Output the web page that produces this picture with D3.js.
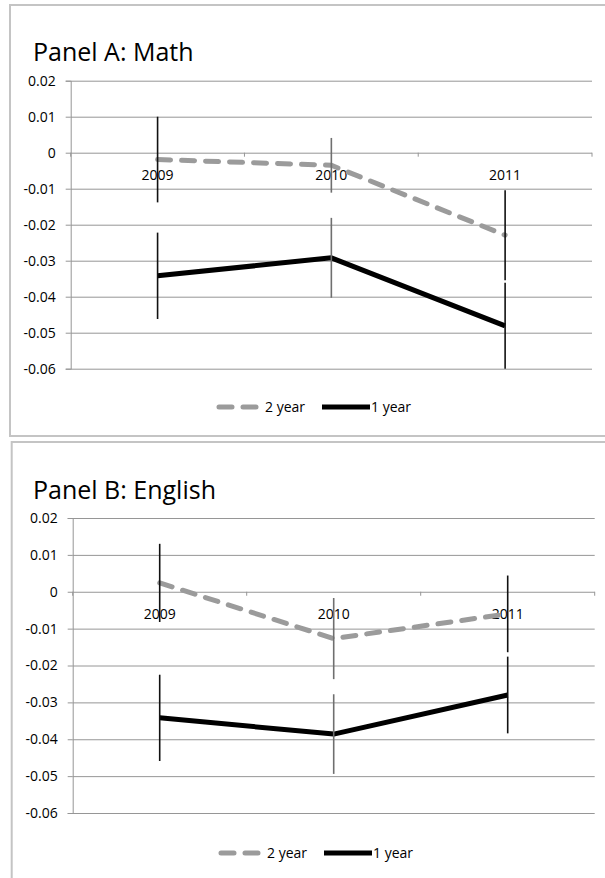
<!DOCTYPE html>
<html>
<head>
<meta charset="utf-8">
<script src="https://cdn.jsdelivr.net/npm/d3@7"></script>
<style>
  body { margin: 0; background: #fff; }
  svg { display: block; font-family: "Open Sans", sans-serif; }
</style>
</head>
<body>
<div id="chart"></div>
<script>
const svgWidth = 605;
const svgHeight = 878;

// categories and tick values
const years = ["2009", "2010", "2011"];
const yTicks = [0.02, 0.01, 0, -0.01, -0.02, -0.03, -0.04, -0.05, -0.06];
const seriesNames = ["2 year", "1 year"];

// Panel A: Math (point estimate and half-width of the error bar)
const mathTwoYear = [-0.0019, -0.0035, -0.0229];
const mathTwoYearErr = [0.0119, 0.0076, 0.0125];
const mathOneYear = [-0.0342, -0.0292, -0.0481];
const mathOneYearErr = [0.012, 0.0111, 0.012];

// Panel B: English
const engTwoYear = [0.0024, -0.0127, -0.006];
const engTwoYearErr = [0.0106, 0.011, 0.0104];
const engOneYear = [-0.0342, -0.0386, -0.028];
const engOneYearErr = [0.0117, 0.0108, 0.0104];

const errColors = ["#111", "#6f6f6f", "#111"];

const svg = d3.select("#chart")
  .append("svg")
  .attr("width", svgWidth)
  .attr("height", svgHeight);

const panels = [
  {title: "Panel A: Math", two: mathTwoYear, twoErr: mathTwoYearErr, one: mathOneYear, oneErr: mathOneYearErr,
   box: {x: 10, y: 5, bottom: 436}, titleY: 61, left: 70.7, right: 592, top: 80.7, bottom: 368.7, legendY: 407, dx: 0},
  {title: "Panel B: English", two: engTwoYear, twoErr: engTwoYearErr, one: engOneYear, oneErr: engOneYearErr,
   box: {x: 11.7, y: 442, bottom: 920}, titleY: 499, left: 72.7, right: 594.7, top: 518, bottom: 813, legendY: 853, dx: 2}
];

function drawPanel(p) {
  const g = svg.append("g");

  // frame
  g.append("rect")
    .attr("x", p.box.x).attr("y", p.box.y)
    .attr("width", 700).attr("height", p.box.bottom - p.box.y)
    .attr("fill", "none")
    .attr("stroke", "#c4c4c4")
    .attr("stroke-width", 2);

  g.append("text")
    .attr("x", 33).attr("y", p.titleY)
    .attr("font-size", 25)
    .attr("fill", "#000")
    .text(p.title);

  const x = d3.scaleBand().domain(years).range([p.left, p.right]);
  const y = d3.scaleLinear().domain([-0.06, 0.02]).range([p.bottom, p.top]).clamp(true);

  // gridlines
  g.append("g")
    .attr("transform", `translate(${p.left},0)`)
    .call(d3.axisLeft(y).tickValues(yTicks).tickSize(-(p.right - p.left)).tickFormat(""))
    .call(s => s.select(".domain").remove())
    .call(s => s.selectAll("line").attr("stroke", "#969696"));

  // y axis
  g.append("g")
    .attr("transform", `translate(${p.left},0)`)
    .call(d3.axisLeft(y).tickValues(yTicks).tickSize(5).tickPadding(10).tickFormat(d => String(d)))
    .call(s => s.select(".domain").attr("stroke", "#969696"))
    .call(s => s.selectAll("line").attr("stroke", "#969696"))
    .call(s => s.selectAll("text").attr("font-size", 14).attr("fill", "#000")
      .attr("font-family", "Open Sans"));

  // category axis crossing at zero
  const xAxis = g.append("g")
    .attr("transform", `translate(0,${y(0)})`)
    .call(d3.axisBottom(x).tickSize(0).tickPadding(17))
    .call(s => s.select(".domain").remove())
    .call(s => s.selectAll("text").attr("font-size", 14).attr("fill", "#000")
      .attr("font-family", "Open Sans"));
  const bounds = years.map(d => x(d)).concat([p.right]);
  xAxis.selectAll(".cat-tick")
    .data(bounds)
    .join("line")
    .attr("x1", d => d).attr("x2", d => d)
    .attr("y1", 0).attr("y2", 4)
    .attr("stroke", "#969696");

  const line = d3.line()
    .x((d, i) => x(years[i]) + x.bandwidth() / 2)
    .y(d => y(d));

  g.append("path")
    .datum(p.two)
    .attr("d", line)
    .attr("fill", "none")
    .attr("stroke", "#9b9b9b")
    .attr("stroke-width", 5)
    .attr("stroke-linecap", "round")
    .attr("stroke-dasharray", "13,11");

  g.append("path")
    .datum(p.one)
    .attr("d", line)
    .attr("fill", "none")
    .attr("stroke", "#000")
    .attr("stroke-width", 5)
    .attr("stroke-linejoin", "round");

  // error bars
  [[p.two, p.twoErr], [p.one, p.oneErr]].forEach(([vals, errs]) => {
    g.append("g")
      .selectAll("line")
      .data(vals)
      .join("line")
      .attr("x1", (d, i) => x(years[i]) + x.bandwidth() / 2)
      .attr("x2", (d, i) => x(years[i]) + x.bandwidth() / 2)
      .attr("y1", (d, i) => y(d + errs[i]))
      .attr("y2", (d, i) => y(d - errs[i]))
      .attr("stroke", (d, i) => errColors[i])
      .attr("stroke-width", 1.6);
  });

  // legend
  const lg = g.append("g").attr("transform", `translate(${p.dx},${p.legendY})`);
  lg.append("line")
    .attr("x1", 219).attr("x2", 257).attr("y1", 0).attr("y2", 0)
    .attr("stroke", "#9b9b9b").attr("stroke-width", 5)
    .attr("stroke-linecap", "round").attr("stroke-dasharray", "13,11");
  lg.append("text").attr("x", 265).attr("y", 5).attr("font-size", 14).attr("fill", "#000").text(seriesNames[0]);
  lg.append("line")
    .attr("x1", 322).attr("x2", 370).attr("y1", 0).attr("y2", 0)
    .attr("stroke", "#000").attr("stroke-width", 5);
  lg.append("text").attr("x", 371).attr("y", 5).attr("font-size", 14).attr("fill", "#000").text(seriesNames[1]);
}

panels.forEach(drawPanel);
</script>
</body>
</html>
